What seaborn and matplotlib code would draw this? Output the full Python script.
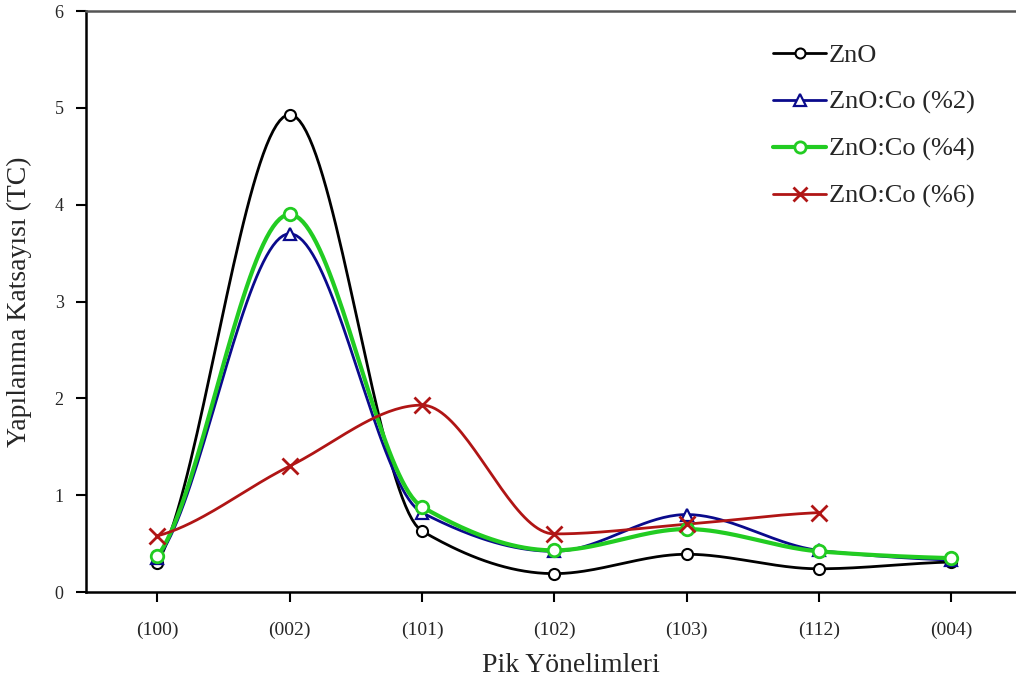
import numpy as np
import pandas as pd
import matplotlib
matplotlib.use("Agg")
import matplotlib.pyplot as plt
import seaborn as sns
from matplotlib.lines import Line2D

categories = ["(100)", "(002)", "(101)", "(102)", "(103)", "(112)", "(004)"]
zno = [0.30, 4.93, 0.63, 0.19, 0.39, 0.24, 0.31]
co2 = [0.35, 3.70, 0.82, 0.42, 0.80, 0.43, 0.33]
co4 = [0.37, 3.90, 0.88, 0.43, 0.65, 0.42, 0.35]
co6 = [0.58, 1.30, 1.93, 0.60, 0.70, 0.82]
series_names = ["ZnO", "ZnO:Co (%2)", "ZnO:Co (%4)", "ZnO:Co (%6)"]
yticks = [0, 1, 2, 3, 4, 5, 6]

sns.set_theme(style="white")
plt.rcParams['font.family'] = ['Liberation Serif', 'DejaVu Serif']

def pchip(y, n=40):
    y = np.asarray(y, float)
    N = len(y)
    d = np.diff(y)
    m = np.zeros(N)
    for i in range(1, N - 1):
        if d[i - 1] * d[i] > 0:
            m[i] = 2.0 / (1.0 / d[i - 1] + 1.0 / d[i])
        else:
            m[i] = 0.0
    m[0] = d[0] * 0.5
    m[-1] = d[-1] * 0.5
    xs, ys = [], []
    for i in range(N - 1):
        t = np.linspace(0, 1, n, endpoint=(i == N - 2))
        h00 = 2*t**3 - 3*t**2 + 1
        h10 = t**3 - 2*t**2 + t
        h01 = -2*t**3 + 3*t**2
        h11 = t**3 - t**2
        xs.append(i + t)
        ys.append(h00*y[i] + h10*m[i] + h01*y[i + 1] + h11*m[i + 1])
    return np.concatenate(xs), np.concatenate(ys)

fig = plt.figure(figsize=(10.16, 6.88), dpi=100)
ax = fig.add_axes([0.0846, 0.1395, 0.9154, 0.8445])

styles = [
    dict(color="black", marker="o", lw=2.0, ms=8, mfc="white", mew=1.5),
    dict(color="#0a0a8c", marker="^", lw=2.0, ms=9, mfc="white", mew=1.6),
    dict(color="#22cc22", marker="o", lw=3.0, ms=9, mfc="white", mew=2.0),
    dict(color="#b01515", marker="x", lw=2.0, ms=11, mfc="none", mew=2.0),
]
data = [zno, co2, co4, co6]

handles = []
for name, vals, st in zip(series_names, data, styles):
    xs, ys = pchip(vals)
    df = pd.DataFrame({"x": xs, "y": ys})
    sns.lineplot(data=df, x="x", y="y", ax=ax, color=st["color"], lw=st["lw"],
                 sort=False, estimator=None, legend=False)
    pts = pd.DataFrame({"x": np.arange(len(vals)), "y": vals})
    ax.plot(pts["x"], pts["y"], ls="none", marker=st["marker"], ms=st["ms"],
            mfc=st["mfc"], mec=st["color"], mew=st["mew"], zorder=5)
    handles.append(Line2D([0], [0], color=st["color"], lw=st["lw"], marker=st["marker"],
                          ms=st["ms"] * 0.9, mfc=st["mfc"], mec=st["color"], mew=st["mew"]))

ax.set_xlim(-0.54, 6.49)
ax.set_ylim(0, 6)
ax.set_xticks(range(len(categories)))
ax.set_xticklabels(categories, fontsize=14)
ax.set_yticks(yticks)
ax.set_yticklabels([str(t) for t in yticks], fontsize=13)
ax.tick_params(axis="x", direction="out", length=7, width=1.5, color="black", bottom=True, pad=14)
ax.tick_params(axis="y", direction="out", length=7, width=1.5, color="black", left=True, pad=9)
ax.set_xlabel("Pik Yönelimleri", fontsize=20)
ax.xaxis.set_label_coords(0.5215, -0.105)
ax.set_ylabel("Yapılanma Katsayısı (TC)", fontsize=20, labelpad=16)

for s in ["left", "bottom", "top"]:
    ax.spines[s].set_visible(True)
    ax.spines[s].set_color("black")
    ax.spines[s].set_linewidth(1.8)
ax.spines["top"].set_color("#555555")
ax.spines["right"].set_visible(False)
ax.grid(False)

leg = ax.legend(handles, series_names, loc="upper left", bbox_to_anchor=(0.7275, 0.962),
                frameon=False, fontsize=19, handlelength=2.0, labelspacing=0.88,
                handletextpad=0.1, borderaxespad=0)

fig.savefig("out.png", dpi=100)
